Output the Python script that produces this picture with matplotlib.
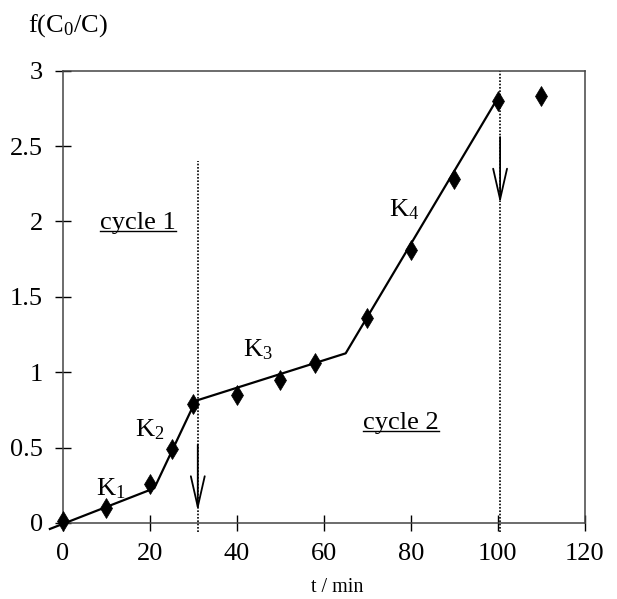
import matplotlib
matplotlib.use('agg')
import matplotlib.pyplot as plt

plt.rcParams['font.family'] = 'Liberation Serif'
plt.rcParams['mathtext.fontset'] = 'custom'
plt.rcParams['mathtext.rm'] = 'Liberation Serif'
plt.rcParams['mathtext.it'] = 'Liberation Serif'

# measured points
t = [0, 10, 20, 25, 30, 40, 50, 58, 70, 80, 90, 100, 110]
f = [0.01, 0.10, 0.26, 0.49, 0.79, 0.85, 0.95, 1.06, 1.36, 1.81, 2.28, 2.80, 2.835]

# piecewise linear fit (K1..K4)
fit_t = [-3, 21, 30.5, 65, 100.2]
fit_f = [-0.04, 0.23, 0.81, 1.125, 2.83]

# cycle boundaries
cycle_t = [31, 100.5]
cycle_top = [2.4, 3.0]

xticks = [0, 20, 40, 60, 80, 100, 120]
yticks = [0, 0.5, 1, 1.5, 2, 2.5, 3]
yticklabels = ['0', '0.5', '1', '1.5', '2', '2.5', '3']

fig = plt.figure(figsize=(6.17, 5.99), dpi=100)
ax = fig.add_axes([0.102, 0.127, 0.846, 0.755])

ax.plot(fit_t, fit_f, color='black', lw=1.6, clip_on=False, zorder=3)
ax.plot(t, f, linestyle='none', marker='d', color='black', markersize=10.5,
        markeredgewidth=0.5, clip_on=False, zorder=4)

for xc, top in zip(cycle_t, cycle_top):
    ax.plot([xc, xc], [-0.06, top], color='black', lw=1.2, linestyle=(0, (1, 1)),
            clip_on=False, zorder=2)

# arrows marking end of cycles
arrows = [(31, 0.52, 0.08), (100.5, 2.56, 2.12)]
for xa, y0, y1 in arrows:
    ax.annotate('', xy=(xa, y1), xytext=(xa, y0),
                arrowprops=dict(arrowstyle='->, head_length=1.1, head_width=0.25',
                                color='black', lw=1.3, mutation_scale=20,
                                shrinkA=0, shrinkB=0))

# rate constants
fs = 19
ax.text(7.5, 0.23, '$\\mathregular{K_1}$', fontsize=fs, ha='left', va='center')
ax.text(16.5, 0.62, '$\\mathregular{K_2}$', fontsize=fs, ha='left', va='center')
ax.text(41.5, 1.15, '$\\mathregular{K_3}$', fontsize=fs, ha='left', va='center')
ax.text(75, 2.08, '$\\mathregular{K_4}$', fontsize=fs, ha='left', va='center')

cyc = [ax.text(8.5, 1.99, 'cycle 1', fontsize=fs, ha='left', va='center'),
       ax.text(69, 0.66, 'cycle 2', fontsize=fs, ha='left', va='center')]

ax.set_xlim(0, 120)
ax.set_ylim(0, 3)
ax.set_xticks(xticks)
ax.set_xticklabels([str(x) for x in xticks])
ax.set_yticks(yticks)
ax.set_yticklabels(yticklabels)
ax.tick_params(direction='inout', length=11, width=1, labelsize=fs)
ax.tick_params(axis='x', pad=9)
ax.tick_params(axis='y', pad=9)
for s in ax.spines.values():
    s.set_linewidth(1.1)
    s.set_color('#444444')

fig.text(0.045, 0.957, '$\\mathregular{f(C_0/C)}$', fontsize=fs, ha='left', va='center')
fig.text(0.546, 0.003, 't / min', fontsize=14.5, ha='center', va='bottom')

# underline the cycle labels
fig.canvas.draw()
r = fig.canvas.get_renderer()
inv = ax.transData.inverted()
for tx in cyc:
    bb = tx.get_window_extent(renderer=r)
    (x0, y0), (x1, _) = inv.transform([(bb.x0, bb.y0 + 3), (bb.x1, bb.y0)])
    ax.plot([x0, x1], [y0, y0], color='black', lw=1.0)

fig.savefig('out.png', dpi=100)
